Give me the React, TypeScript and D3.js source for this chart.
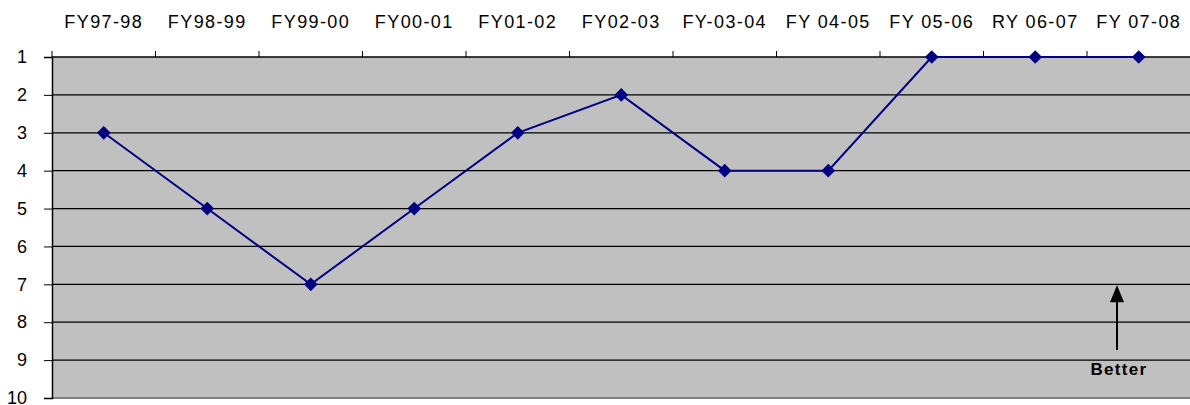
import { useEffect, useRef } from 'react';
import * as d3 from 'd3';

const years = ['FY97-98', 'FY98-99', 'FY99-00', 'FY00-01', 'FY01-02', 'FY02-03', 'FY-03-04', 'FY 04-05', 'FY 05-06', 'RY 06-07', 'FY 07-08'];
const ranks = [3, 5, 7, 5, 3, 2, 4, 4, 1, 1, 1];
const yTicks = [1, 2, 3, 4, 5, 6, 7, 8, 9, 10];

const App = () => {
  const svgRef = useRef<SVGSVGElement>(null);

  useEffect(() => {
    const width = 1190;
    const height = 405;
    const margin = { top: 57, right: 0, bottom: 7, left: 52 };
    const font = 'Arial, "Liberation Sans", sans-serif';

    const svg = d3.select(svgRef.current);
    svg.selectAll('*').remove();

    const x = d3.scaleBand()
      .domain(years)
      .range([margin.left, margin.left + 103.5 * years.length]);

    const y = d3.scaleLinear()
      .domain([1, 10])
      .range([margin.top, height - margin.bottom]);

    // plot background
    svg.append('rect')
      .attr('x', margin.left)
      .attr('y', y(1))
      .attr('width', width - margin.left)
      .attr('height', y(10) - y(1))
      .attr('fill', '#c0c0c0');

    // gridlines
    svg.selectAll('line.grid')
      .data(yTicks.filter(d => d < 10))
      .join('line')
      .attr('class', 'grid')
      .attr('x1', margin.left)
      .attr('x2', width)
      .attr('y1', d => y(d))
      .attr('y2', d => y(d))
      .attr('stroke', '#000')
      .attr('stroke-width', 1.3);

    // bottom edge
    svg.append('line')
      .attr('x1', margin.left).attr('x2', width)
      .attr('y1', y(10)).attr('y2', y(10))
      .attr('stroke', '#808080').attr('stroke-width', 2);

    // top axis (categories)
    const top = svg.append('g')
      .attr('transform', `translate(0,${y(1)})`)
      .call(d3.axisTop(x).tickSize(0).tickPadding(29));
    top.select('.domain').remove();
    top.selectAll('text')
      .style('font-family', font)
      .style('font-size', '18px')
      .style('letter-spacing', '1.4px')
      .attr('fill', '#000');

    // band boundary ticks on top
    svg.selectAll('line.xtick')
      .data(years)
      .join('line')
      .attr('class', 'xtick')
      .attr('x1', d => x(d)!)
      .attr('x2', d => x(d)!)
      .attr('y1', y(1) - 6)
      .attr('y2', y(1))
      .attr('stroke', '#000');

    // left axis
    const left = svg.append('g')
      .attr('transform', `translate(${margin.left},0)`)
      .call(d3.axisLeft(y).tickValues(yTicks).tickSize(8).tickPadding(17).tickFormat(d3.format('d')));
    left.select('.domain').attr('stroke-width', 1.5);
    left.selectAll('text')
      .style('font-family', font)
      .style('font-size', '18px')
      .attr('fill', '#000');

    // series line
    const cx = (d: string) => x(d)! + x.bandwidth() / 2;
    const line = d3.line<number>()
      .x((_, i) => cx(years[i]))
      .y(d => y(d));

    svg.append('path')
      .datum(ranks)
      .attr('d', line)
      .attr('fill', 'none')
      .attr('stroke', '#000080')
      .attr('stroke-width', 2);

    svg.selectAll('path.marker')
      .data(ranks)
      .join('path')
      .attr('class', 'marker')
      .attr('d', d3.symbol(d3.symbolDiamond2, 120))
      .attr('transform', (d, i) => `translate(${cx(years[i])},${y(d)})`)
      .attr('fill', '#000080');

    // "Better" arrow annotation
    const ax = 1117;
    svg.append('line')
      .attr('x1', ax).attr('x2', ax)
      .attr('y1', y(8.73)).attr('y2', y(7.4))
      .attr('stroke', '#000').attr('stroke-width', 2);
    svg.append('path')
      .attr('d', `M${ax},${y(7.02)} L${ax - 7},${y(7.47)} L${ax + 7},${y(7.47)} Z`)
      .attr('fill', '#000');
    svg.append('text')
      .attr('x', 1119)
      .attr('y', 375)
      .attr('text-anchor', 'middle')
      .style('font-family', font)
      .style('font-size', '17px')
      .style('font-weight', 'bold')
      .style('letter-spacing', '1.3px')
      .text('Better');
  }, []);

  return (
    <div style={{ position: 'absolute', left: 0, top: 0, background: '#fff' }}>
      <svg ref={svgRef} width={1190} height={405} style={{ display: 'block' }} />
    </div>
  );
};

export default App;
